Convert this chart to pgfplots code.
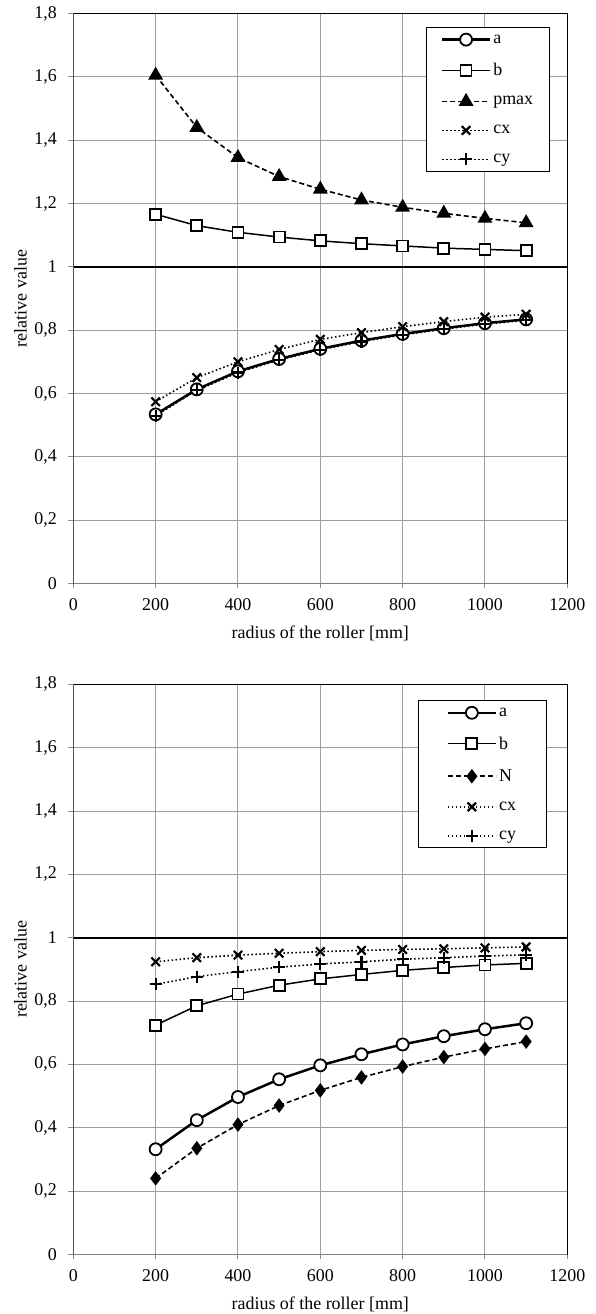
\documentclass[border=0pt]{standalone}
\usepackage{fontspec}
\setmainfont{Liberation Serif}
\usepackage{pgfplots}
\usepackage{pgfplotstable}
\pgfplotsset{compat=1.18}

\pgfplotstableread{
x a b pmax cx cy
200 0.534 1.166 1.605 0.574 0.530
300 0.613 1.130 1.440 0.650 0.610
400 0.670 1.109 1.345 0.700 0.666
500 0.709 1.094 1.285 0.739 0.706
600 0.741 1.082 1.245 0.771 0.738
700 0.767 1.073 1.211 0.792 0.764
800 0.788 1.066 1.188 0.811 0.785
900 0.806 1.059 1.169 0.827 0.803
1000 0.822 1.055 1.153 0.841 0.819
1100 0.834 1.051 1.139 0.850 0.831
}\topdata

\pgfplotstableread{
x a b N cx cy
200 0.332 0.724 0.240 0.924 0.853
300 0.424 0.785 0.335 0.937 0.877
400 0.497 0.822 0.410 0.945 0.893
500 0.553 0.850 0.470 0.951 0.907
600 0.597 0.870 0.518 0.956 0.917
700 0.632 0.884 0.559 0.960 0.924
800 0.663 0.897 0.593 0.963 0.932
900 0.689 0.906 0.623 0.965 0.937
1000 0.711 0.914 0.649 0.968 0.942
1100 0.730 0.919 0.672 0.971 0.946
}\botdata

\newcommand{\bigfont}{\fontsize{18}{21}\selectfont}

\pgfplotsset{
  myaxis/.style={
    width=494bp, height=570bp, scale only axis,
    xmin=0, xmax=1200, ymin=0, ymax=1.8,
    xtick={0,200,400,600,800,1000,1200},
    ytick={0,0.2,0.4,0.6,0.8,1,1.2,1.4,1.6,1.8},
    yticklabels={0,{0,2},{0,4},{0,6},{0,8},1,{1,2},{1,4},{1,6},{1,8}},
    /pgf/number format/assume math mode=true,
    /pgf/number format/1000 sep={},
    grid=major,
    grid style={draw=black!38, line width=1bp},
    axis line style={black, line width=1.2bp},
    tick align=outside, tick pos=left,
    major tick length=5bp,
    tick style={black!45, line width=1bp},
    tick label style={font=\bigfont},
    xticklabel style={yshift=-7bp},
    yticklabel style={xshift=-8bp},
    label style={font=\bigfont},
    xlabel={radius of the roller [mm]},
    ylabel={relative value},
    xlabel style={at={(axis description cs:0.5,0)}, anchor=center, yshift=-50bp},
    ylabel style={at={(axis description cs:-0.107,0.5)}, anchor=center},
    legend cell align=left,
    legend image code/.code={
      \draw[mark repeat=2,mark phase=2] plot coordinates {(0bp,0bp)(24bp,0bp)(48bp,0bp)};
    },
  },
  sa/.style={black, line width=2.5bp, mark=*, mark size=6bp, mark options={solid, fill=white, line width=1.8bp}},
  sb/.style={black, line width=1.5bp, mark=square*, mark size=5.5bp, mark options={solid, fill=white, line width=1.8bp}},
  sp/.style={black, line width=1.6bp, dash pattern=on 5bp off 3bp, mark=triangle*, mark size=7bp, mark options={solid, fill=black}},
  sn/.style={black, line width=1.6bp, dash pattern=on 5bp off 3bp, mark=diamond*, mark size=6bp, mark options={solid, fill=black}},
  scx/.style={black, line width=1.6bp, dash pattern=on 1.5bp off 2.5bp, mark=x, mark size=6bp, mark options={solid, line width=2.2bp}},
  scy/.style={black, line width=1.6bp, dash pattern=on 1.5bp off 2.5bp, mark=+, mark size=6bp, mark options={solid, line width=2.2bp}},
}

\begin{document}
\begin{tikzpicture}
\useasboundingbox (0,0) rectangle (596bp,1314bp);

\begin{axis}[myaxis, at={(73.3bp,730.5bp)}, anchor=south west,
  legend style={draw=black, line width=1bp, fill=white, font=\bigfont,
    inner xsep=14bp, inner ysep=5bp, row sep=15bp,
    at={(0.7146,0.976)}, anchor=north west}]
\addplot[black, line width=2bp, forget plot] coordinates {(0,1) (1200,1)};
\addplot[sa] table[x=x,y=a] {\topdata};
\addlegendentry{a}
\addplot[sb] table[x=x,y=b] {\topdata};
\addlegendentry{b}
\addplot[sp] table[x=x,y=pmax] {\topdata};
\addlegendentry{pmax}
\addplot[scx] table[x=x,y=cx] {\topdata};
\addlegendentry{cx}
\addplot[scy] table[x=x,y=cy] {\topdata};
\addlegendentry{cy}
\draw[black!50, line width=1.2bp] (rel axis cs:0,0) -- (rel axis cs:0,1);
\draw[black!50, line width=1.2bp] (rel axis cs:0,0) -- (rel axis cs:1,0);
\end{axis}

\begin{axis}[myaxis, at={(73.3bp,59.6bp)}, anchor=south west,
  legend style={draw=black, line width=1bp, fill=white, font=\bigfont,
    inner xsep=28bp, inner ysep=5bp, row sep=15bp,
    at={(0.698,0.972)}, anchor=north west}]
\addplot[black, line width=2bp, forget plot] coordinates {(0,1) (1200,1)};
\addplot[sa] table[x=x,y=a] {\botdata};
\addlegendentry{a}
\addplot[sb] table[x=x,y=b] {\botdata};
\addlegendentry{b}
\addplot[sn] table[x=x,y=N] {\botdata};
\addlegendentry{N}
\addplot[scx] table[x=x,y=cx] {\botdata};
\addlegendentry{cx}
\addplot[scy] table[x=x,y=cy] {\botdata};
\addlegendentry{cy}
\draw[black!50, line width=1.2bp] (rel axis cs:0,0) -- (rel axis cs:0,1);
\draw[black!50, line width=1.2bp] (rel axis cs:0,0) -- (rel axis cs:1,0);
\end{axis}
\end{tikzpicture}
\end{document}
